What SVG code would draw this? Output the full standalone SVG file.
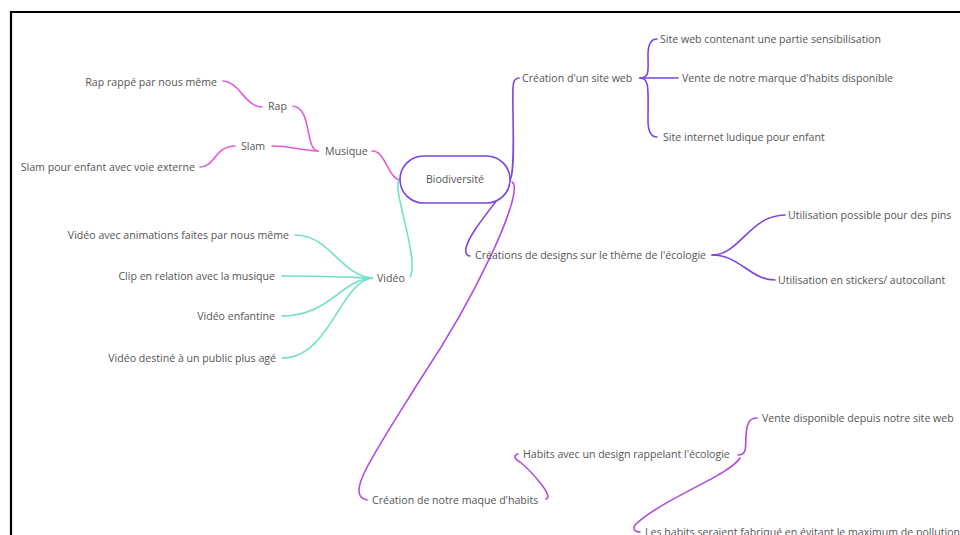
<svg xmlns="http://www.w3.org/2000/svg" width="960" height="535" viewBox="0 0 960 535">
<style>
text{font-family:"Open Sans","Noto Sans","Liberation Sans",sans-serif;font-size:10.6px;fill:#555}
.c path{fill:none;stroke-width:1.6;stroke-linecap:round}
.pk{stroke:#e35bd8}
.tq{stroke:#72e0cb}
.vi{stroke:#7a45e0}
.pu{stroke:#b14be6}
</style>
<rect width="960" height="535" fill="#fff"/>
<path d="M11,535 V12 H960" fill="none" stroke="#000" stroke-width="2.2"/>
<g class="c" id="connectors">
<path class="pk" d="M372,151 C385,150 388,178 400,180"/>
<path class="pk" d="M318,151 C305,150 312,108 293,106"/>
<path class="pk" d="M318,151 C300,150 290,146 272,146"/>
<path class="pk" d="M262,107 C245,107 240,82 223,81"/>
<path class="pk" d="M235,146 C215,146 215,167 200,167"/>
<path class="tq" d="M399,180 C392,190 420,260 410,277"/>
<path class="tq" d="M372,278 C340,275 330,235 295,235"/>
<path class="tq" d="M372,278 C340,277 320,276 282,276"/>
<path class="tq" d="M372,278 C340,280 330,316 282,316"/>
<path class="tq" d="M372,278 C340,282 330,358 282,358"/>
<path class="vi" d="M510,180 C516,170 512,110 513,88 C513,80 516,78 519,78"/>
<path class="vi" d="M640,78 C650,78 648,70 648,55 C648,42 652,39 657,39"/>
<path class="vi" d="M640,78 L678,78"/>
<path class="vi" d="M640,78 C650,78 648,90 648,120 C648,133 652,137 657,137"/>
<path class="vi" d="M510,180 C500,200 470,230 466,248 C465,253 467,256 470,256"/>
<path class="vi" d="M712,255 C740,255 750,215 785,215"/>
<path class="vi" d="M712,255 C740,255 750,280 775,280"/>
<path class="pu" d="M512,182 C525,190 480,290 420,380 C370,460 345,495 367,500"/>
<path class="pu" d="M546,499 C555,497 530,470 520,462 C513,458 514,455 518,454"/>
<path class="pu" d="M738,455 C748,455 745,445 746,435 C747,422 750,418 757,418"/>
<path class="pu" d="M740,458 C730,475 660,500 635,525 C632,530 636,532 640,532"/>
</g>
<g id="n-bio"><rect x="400" y="156" width="110" height="47" rx="23.5" fill="#fff" stroke="#7a45e0" stroke-width="1.6"/><text x="455" y="183" text-anchor="middle">Biodiversité</text></g>
<g id="n-musique"><text x="325" y="155">Musique</text></g>
<g id="n-rap"><text x="268" y="110">Rap</text></g>
<g id="n-slam"><text x="241" y="150">Slam</text></g>
<g id="n-rap1"><text x="217" y="86" text-anchor="end">Rap rappé par nous même</text></g>
<g id="n-slam1"><text x="195" y="171" text-anchor="end">Slam pour enfant avec voie externe</text></g>
<g id="n-video"><text x="377" y="282">Vidéo</text></g>
<g id="n-v1"><text x="289" y="239" text-anchor="end">Vidéo avec animations faites par nous même</text></g>
<g id="n-v2"><text x="275" y="280" text-anchor="end">Clip en relation avec la musique</text></g>
<g id="n-v3"><text x="275" y="320" text-anchor="end">Vidéo enfantine</text></g>
<g id="n-v4"><text x="276" y="362" text-anchor="end">Vidéo destiné à un public plus agé</text></g>
<g id="n-site"><text x="522" y="82">Création d'un site web</text></g>
<g id="n-s1"><text x="660" y="43">Site web contenant une partie sensibilisation</text></g>
<g id="n-s2"><text x="682" y="82">Vente de notre marque d'habits disponible</text></g>
<g id="n-s3"><text x="663" y="141">Site internet ludique pour enfant</text></g>
<g id="n-design"><text x="475" y="259">Créations de designs sur le thème de l'écologie</text></g>
<g id="n-d1"><text x="788" y="219">Utilisation possible pour des pins</text></g>
<g id="n-d2"><text x="778" y="284">Utilisation en stickers/ autocollant</text></g>
<g id="n-maque"><text x="372" y="504">Création de notre maque d'habits</text></g>
<g id="n-habits"><text x="523" y="458">Habits avec un design rappelant l'écologie</text></g>
<g id="n-h1"><text x="762" y="422">Vente disponible depuis notre site web</text></g>
<g id="n-h2"><text x="645" y="536">Les habits seraient fabriqué en évitant le maximum de pollution</text></g>
</svg>
